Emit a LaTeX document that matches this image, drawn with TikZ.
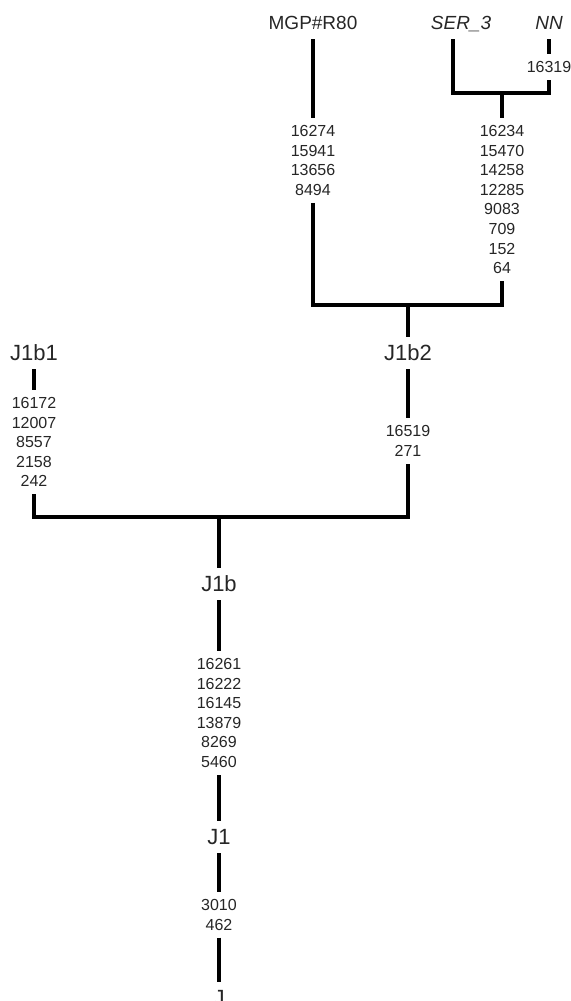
\documentclass[tikz,border=0pt]{standalone}
\usepackage{fontspec}
\setmainfont{Liberation Sans}
\usetikzlibrary{calc,positioning}
\begin{document}
\begin{tikzpicture}[x=0.5pt,y=-0.5pt]
\tikzstyle{tip}=[font=\fontsize{9.5}{11}\selectfont, text=black!85, text height=6.8pt, text depth=0pt, inner xsep=2pt, inner ysep=4.5pt]
\tikzstyle{hg}=[font=\fontsize{11}{13}\selectfont, text=black!85, text height=7.9pt, text depth=0pt, inner xsep=2pt, inner ysep=4pt]
\tikzstyle{mut}=[font=\fontsize{8}{9.8}\selectfont, text=black!85, align=center, anchor=north, inner xsep=2pt, inner ysep=3.5pt]
\tikzstyle{br}=[line width=2pt]
\useasboundingbox (0,0) rectangle (571,1001);
\clip (0,0) rectangle (571,1001);
% tips
\node[tip] (mgp) at (313,23) {MGP\#R80};
\node[tip] (ser) at (461,23) {\itshape SER\_3};
\node[tip] (nn) at (549,23) {\itshape NN};
% haplogroups
\foreach \n/\x/\y/\t in {j1b1/34/353/J1b1, j1b2/408/353/J1b2, j1b/219/584/J1b, j1/219/837/J1, j/219/998/J}{\node[hg] (\n) at (\x,\y){\t};}
% mutations
\foreach \n/\x/\y/\t in {mgpm/313/118/{16274\\15941\\13656\\8494}, serm/502/118/{16234\\15470\\14258\\12285\\9083\\709\\152\\64}, b1m/34/390/{16172\\12007\\8557\\2158\\242}, b2m/408/418/{16519\\271}, bm/219/651/{16261\\16222\\16145\\13879\\8269\\5460}, jm/219/892/{3010\\462}}{\node[mut] (\n) at (\x,\y){\t};}
\node[mut, anchor=center] (nnm) at (549,67) {16319};
% branches
\coordinate (top) at (502,93);
\coordinate (ja) at (408,305);
\coordinate (jb) at (219,517);
\draw[br] ([xshift=-4pt]ser.south) |- (top) -| (nnm.south);
\draw[br] (nn.south) -- (nnm.north);
\draw[br] (top) -- (serm.north);
\draw[br] (mgp.south) -- (mgpm.north);
\draw[br] (mgpm.south) |- (ja) -| (serm.south);
\draw[br] (ja) -- (j1b2.north);
\draw[br] (j1b2.south) -- (b2m.north);
\draw[br] (j1b1.south) -- (b1m.north);
\draw[br] (b1m.south) |- (jb) -| (b2m.south);
\draw[br] (jb) -- (j1b.north);
\draw[br] (j1b.south) -- (bm.north);
\draw[br] (bm.south) -- (j1.north);
\draw[br] (j1.south) -- (jm.north);
\draw[br] (jm.south) -- (j.north);
\end{tikzpicture}
\end{document}
